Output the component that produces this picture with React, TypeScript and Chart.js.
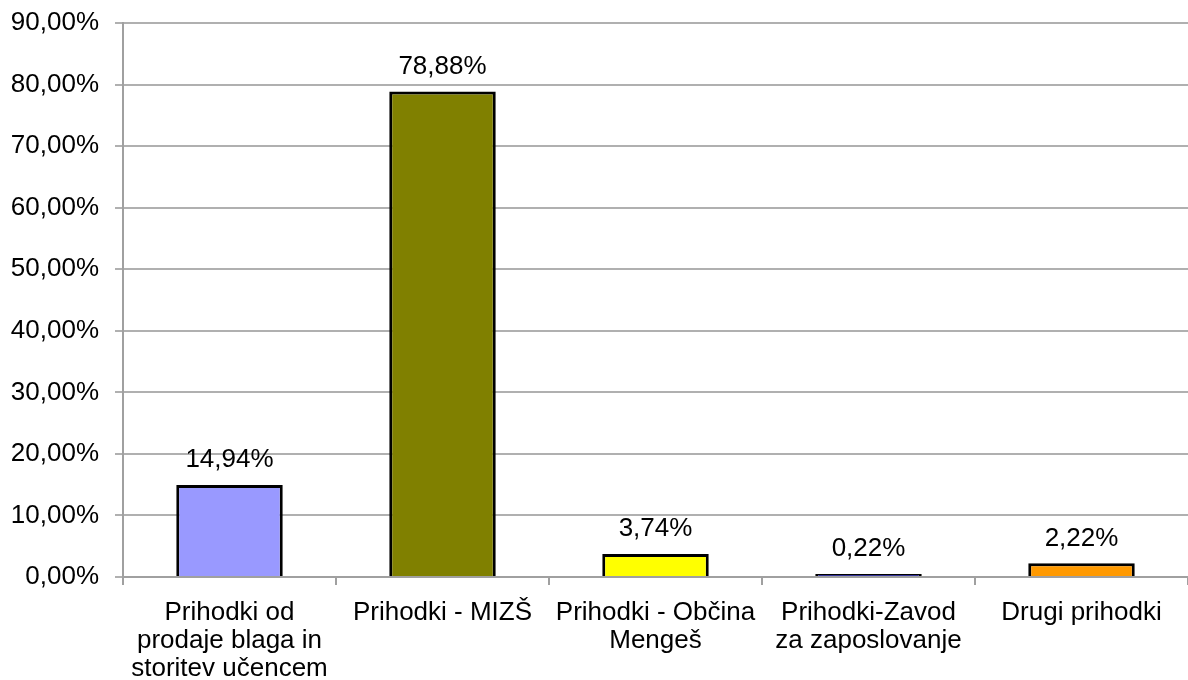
import React, { useEffect, useRef } from "react";
import { Chart, registerables } from "chart.js";

Chart.register(...registerables);

const categories: string[][] = [
  ["Prihodki od", "prodaje blaga in", "storitev učencem"],
  ["Prihodki - MIZŠ"],
  ["Prihodki - Občina", "Mengeš"],
  ["Prihodki-Zavod", "za zaposlovanje"],
  ["Drugi prihodki"],
];
const values: number[] = [14.94, 78.88, 3.74, 0.22, 2.22];
const barColors: string[] = ["#9999FF", "#808000", "#FFFF00", "#333399", "#FF9900"];

const FONT = "'Liberation Sans', Arial, sans-serif";

const fmt = (v: number) => v.toFixed(2).replace(".", ",") + "%";

const labelPlugin = {
  id: "barLabels",
  afterDatasetsDraw(chart: any) {
    const ctx = chart.ctx;
    const meta = chart.getDatasetMeta(0);
    ctx.save();
    ctx.font = `26px ${FONT}`;
    ctx.fillStyle = "#000";
    ctx.textAlign = "center";
    ctx.textBaseline = "middle";
    meta.data.forEach((el: any, i: number) => {
      ctx.fillText(fmt(values[i]), el.x, el.y - 25);
    });
    ctx.restore();
  },
};

export default function App() {
  const ref = useRef<HTMLCanvasElement>(null);
  useEffect(() => {
    document.body.style.margin = "0";
    const chart = new Chart(ref.current!, {
      type: "bar",
      data: {
        labels: categories,
        datasets: [
          {
            data: values,
            backgroundColor: barColors,
            borderColor: "#000",
            borderWidth: 3,
            minBarLength: 3,
            barPercentage: 0.5,
            categoryPercentage: 1,
          },
        ],
      },
      options: {
        animation: false,
        responsive: true,
        maintainAspectRatio: false,
        layout: { padding: { top: 23, right: 0, left: 0, bottom: 0 } },
        plugins: { legend: { display: false }, tooltip: { enabled: false } },
        scales: {
          x: {
            offset: true,
            grid: {
              offset: true,
              drawOnChartArea: false,
              drawTicks: true,
              tickLength: 8,
              color: "#A0A0A0",
              lineWidth: 2,
            },
            border: { color: "#A0A0A0", width: 2 },
            ticks: {
              color: "#000",
              font: { family: FONT, size: 26, lineHeight: 1.08 },
              padding: 14,
              maxRotation: 0,
              autoSkip: false,
            },
            afterFit: (scale: any) => {
              scale.height = 103;
              scale.paddingLeft = 0;
              scale.paddingRight = 0;
            },
          },
          y: {
            min: 0,
            max: 90,
            grid: {
              color: "#B0B0B0",
              lineWidth: 2,
              tickLength: 8,
            },
            border: { color: "#A0A0A0", width: 2 },
            ticks: {
              stepSize: 10,
              color: "#000",
              font: { family: FONT, size: 26 },
              padding: 16,
              callback: (v: any) => fmt(Number(v)),
            },
            afterFit: (scale: any) => {
              scale.width = 123;
              scale.paddingTop = 0;
              scale.paddingBottom = 0;
            },
          },
        },
      },
      plugins: [labelPlugin],
    });
    return () => chart.destroy();
  }, []);
  return (
    <div style={{ width: 1188, height: 680, position: "relative" }}>
      <canvas ref={ref} />
    </div>
  );
}
